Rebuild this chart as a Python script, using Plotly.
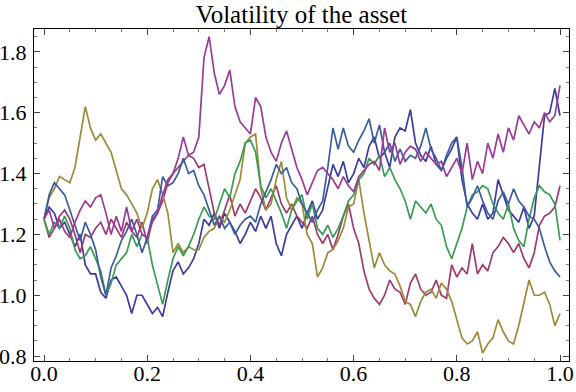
import plotly.graph_objects as go

t = [i / 100 for i in range(101)]

dark_blue = [1.25, 1.29, 1.27, 1.22, 1.24, 1.20, 1.16, 1.20, 1.10, 1.07,
             1.07, 1.01, 0.99, 1.05, 1.06, 1.03, 1.00, 0.94, 1.00, 1.00,
             0.97, 0.94, 0.96, 0.93, 1.01, 1.08, 1.11, 1.07, 1.09, 1.12,
             1.17, 1.25, 1.23, 1.27, 1.22, 1.27, 1.24, 1.21, 1.17, 1.20,
             1.24, 1.21, 1.26, 1.22, 1.26, 1.17, 1.13, 1.20, 1.23, 1.26,
             1.22, 1.27, 1.31, 1.25, 1.28, 1.35, 1.43, 1.39, 1.44, 1.37,
             1.40, 1.45, 1.42, 1.49, 1.52, 1.45, 1.47, 1.42, 1.52, 1.55,
             1.54, 1.61, 1.50, 1.46, 1.44, 1.49, 1.43, 1.41, 1.45, 1.48,
             1.52, 1.38, 1.30, 1.27, 1.25, 1.30, 1.25, 1.27, 1.38, 1.33,
             1.28, 1.26, 1.24, 1.29, 1.22, 1.26, 1.42, 1.59, 1.60, 1.68,
             1.59]

crimson = [1.25, 1.19, 1.22, 1.26, 1.28, 1.25, 1.20, 1.14, 1.20, 1.19,
           1.22, 1.24, 1.20, 1.25, 1.22, 1.19, 1.24, 1.21, 1.19, 1.24,
           1.17, 1.25, 1.27, 1.31, 1.37, 1.40, 1.42, 1.44, 1.46, 1.45,
           1.42, 1.43, 1.35, 1.27, 1.23, 1.28, 1.33, 1.26, 1.30, 1.27,
           1.31, 1.35, 1.32, 1.28, 1.32, 1.36, 1.30, 1.27, 1.30, 1.26,
           1.24, 1.22, 1.26, 1.20, 1.17, 1.20, 1.15, 1.20, 1.26, 1.30,
           1.22, 1.17, 1.08, 1.02, 0.99, 0.97, 1.00, 1.05, 1.02, 1.01,
           0.97, 1.04, 1.07, 1.02, 1.00, 1.01, 1.05, 1.00, 0.99, 1.10,
           1.06, 1.09, 1.07, 1.17, 1.07, 1.10, 1.08, 1.14, 1.16, 1.19,
           1.17, 1.14, 1.17, 1.12, 1.09, 1.14, 1.23, 1.26, 1.27, 1.29,
           1.36]

olive = [1.25, 1.32, 1.35, 1.39, 1.38, 1.37, 1.42, 1.52, 1.62, 1.55,
         1.51, 1.53, 1.50, 1.47, 1.41, 1.35, 1.33, 1.30, 1.27, 1.22,
         1.27, 1.35, 1.38, 1.33, 1.27, 1.14, 1.17, 1.14, 1.16, 1.15,
         1.15, 1.19, 1.21, 1.22, 1.26, 1.24, 1.28, 1.33, 1.38, 1.50,
         1.52, 1.53, 1.35, 1.28, 1.30, 1.38, 1.44, 1.32, 1.28, 1.32,
         1.30, 1.20, 1.17, 1.06, 1.09, 1.14, 1.15, 1.18, 1.22, 1.29,
         1.30, 1.38, 1.27, 1.18, 1.09, 1.14, 1.10, 1.08, 1.07, 1.03,
         0.98, 0.97, 0.93, 0.98, 1.01, 1.02, 0.99, 1.04, 1.02, 0.98,
         0.92, 0.86, 0.84, 0.85, 0.88, 0.81, 0.84, 0.86, 0.92, 0.88,
         0.85, 0.84, 0.90, 0.98, 1.05, 1.00, 1.00, 1.01, 0.97, 0.90,
         0.94]

green = [1.25, 1.20, 1.24, 1.22, 1.26, 1.22, 1.15, 1.12, 1.13, 1.16,
         1.12, 1.08, 1.00, 1.04, 1.10, 1.12, 1.14, 1.20, 1.16, 1.20,
         1.19, 1.10, 1.03, 0.97, 1.05, 1.12, 1.16, 1.13, 1.16, 1.20,
         1.25, 1.29, 1.26, 1.25, 1.30, 1.35, 1.32, 1.40, 1.44, 1.50,
         1.51, 1.47, 1.36, 1.32, 1.35, 1.31, 1.27, 1.22, 1.28, 1.31,
         1.33, 1.25, 1.30, 1.22, 1.20, 1.23, 1.19, 1.22, 1.26, 1.31,
         1.33, 1.38, 1.40, 1.45, 1.43, 1.46, 1.39, 1.42, 1.38, 1.35,
         1.31, 1.25, 1.31, 1.29, 1.27, 1.30, 1.25, 1.23, 1.16, 1.12,
         1.17, 1.22, 1.29, 1.33, 1.34, 1.36, 1.35, 1.30, 1.27, 1.25,
         1.30, 1.22, 1.18, 1.16, 1.25, 1.32, 1.36, 1.34, 1.33, 1.30,
         1.18]

steel_blue = [1.25, 1.33, 1.37, 1.35, 1.33, 1.28, 1.23, 1.18, 1.24, 1.20,
              1.15, 1.06, 1.00, 1.09, 1.13, 1.18, 1.21, 1.25, 1.20, 1.14,
              1.19, 1.26, 1.28, 1.39, 1.36, 1.37, 1.40, 1.45, 1.40, 1.41,
              1.36, 1.33, 1.28, 1.23, 1.26, 1.22, 1.24, 1.20, 1.23, 1.25,
              1.26, 1.24, 1.30, 1.34, 1.38, 1.43, 1.40, 1.42, 1.37, 1.35,
              1.30, 1.27, 1.24, 1.28, 1.31, 1.42, 1.55, 1.48, 1.55, 1.49,
              1.47, 1.51, 1.54, 1.58, 1.50, 1.56, 1.47, 1.50, 1.44, 1.48,
              1.44, 1.46, 1.45, 1.49, 1.55, 1.48, 1.45, 1.41, 1.46, 1.50,
              1.52, 1.42, 1.29, 1.32, 1.36, 1.31, 1.27, 1.25, 1.31, 1.34,
              1.30, 1.35, 1.31, 1.29, 1.26, 1.25, 1.22, 1.16, 1.11, 1.08,
              1.06]

purple = [1.25, 1.28, 1.22, 1.25, 1.21, 1.19, 1.24, 1.28, 1.31, 1.29,
          1.32, 1.33, 1.27, 1.20, 1.26, 1.21, 1.29, 1.21, 1.25, 1.20,
          1.19, 1.24, 1.27, 1.33, 1.38, 1.40, 1.45, 1.52, 1.46, 1.47,
          1.52, 1.78, 1.85, 1.73, 1.66, 1.69, 1.74, 1.62, 1.57, 1.55,
          1.53, 1.65, 1.62, 1.52, 1.47, 1.44, 1.50, 1.54, 1.48, 1.42,
          1.38, 1.33, 1.37, 1.41, 1.42, 1.40, 1.38, 1.35, 1.39, 1.36,
          1.34, 1.39, 1.41, 1.43, 1.44, 1.41, 1.55, 1.47, 1.50, 1.43,
          1.47, 1.49, 1.48, 1.44, 1.47, 1.45, 1.43, 1.44, 1.39, 1.42,
          1.45, 1.40, 1.50, 1.38, 1.44, 1.40, 1.50, 1.45, 1.53, 1.47,
          1.55, 1.51, 1.59, 1.56, 1.53, 1.57, 1.55, 1.60, 1.57, 1.59,
          1.69]

series = [dark_blue, crimson, olive, green, steel_blue, purple]
colors = ['#3c3c9e', '#9e3a72', '#9c8b3a', '#3a9c52', '#3a5d9e', '#9c3a98']

fig = go.Figure()
for vals, col in zip(series, colors):
    fig.add_trace(go.Scatter(x=t, y=vals, mode='lines',
                             line=dict(color=col, width=1.7),
                             showlegend=False, hoverinfo='skip'))

axis_style = dict(
    showgrid=False, zeroline=False, automargin=False,
    showline=True, linecolor='black', linewidth=1, mirror='allticks',
    ticks='inside', ticklen=6, tickcolor='#444', tickwidth=1,
    tickformat='.1f', ticklabeloverflow='allow',
    tickfont=dict(family='Liberation Serif', size=22, color='black'),
)

fig.update_layout(
    width=576, height=392,
    title=dict(text='Volatility of the asset', x=0.5, xref='paper',
               y=1 - 14 / 392, yref='container', yanchor='middle',
               font=dict(family='Liberation Serif', size=25, color='black')),
    plot_bgcolor='white', paper_bgcolor='white',
    margin=dict(l=34, r=7, t=29, b=31),
    xaxis=dict(axis_style, range=[-0.0194, 1.0174], dtick=0.2, tick0=0,
               ticklabelstandoff=-7,
               minor=dict(dtick=0.05, ticks='inside', ticklen=3, tickcolor='#777')),
    yaxis=dict(axis_style, range=[0.784, 1.875], dtick=0.2, tick0=0,
               ticklabelstandoff=2,
               minor=dict(dtick=0.05, ticks='inside', ticklen=3, tickcolor='#777')),
)

# page body has a default 8px margin; drop it so the figure sits at the window corner
fig.write_html("out.html", config={'displayModeBar': False},
               post_script="document.body.style.margin = '0';")
